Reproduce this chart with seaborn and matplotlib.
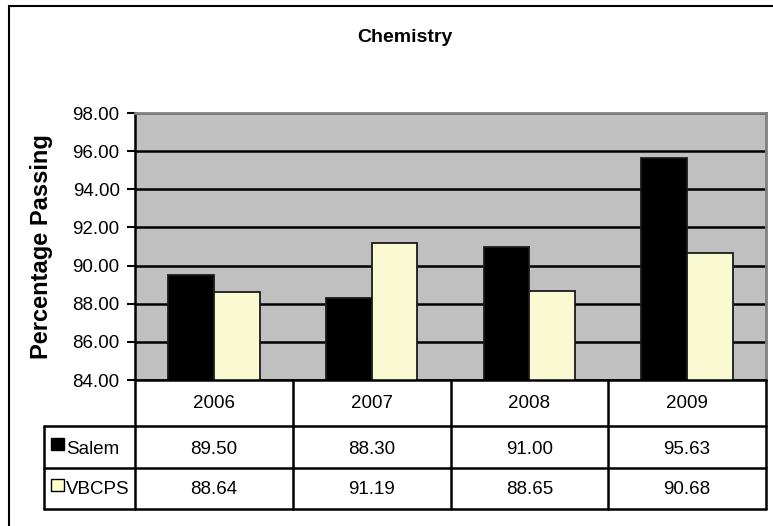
import matplotlib
matplotlib.use("Agg")
import matplotlib.pyplot as plt
import seaborn as sns
import pandas as pd
from matplotlib import font_manager
from matplotlib.lines import Line2D
from matplotlib.patches import Rectangle
from matplotlib.transforms import blended_transform_factory

# ---- data ----
years = ["2006", "2007", "2008", "2009"]
series = ["Salem", "VBCPS"]
salem = [89.50, 88.30, 91.00, 95.63]
vbcps = [88.64, 91.19, 88.65, 90.68]
yticks = [84, 86, 88, 90, 92, 94, 96, 98]
title = "Chemistry"
ylabel = "Percentage Passing"
colors = ["#000000", "#FFFFCC"]

df = pd.DataFrame({
    "Year": years * 2,
    "Series": [series[0]] * len(years) + [series[1]] * len(years),
    "Value": salem + vbcps,
})

sns.set_theme(style="white")
installed = {f.name for f in font_manager.fontManager.ttflist}
if "Liberation Sans Narrow" in installed:
    fam = ["Liberation Sans Narrow", "DejaVu Sans"]
    fs = 16
else:
    fam = ["Liberation Sans", "DejaVu Sans"]
    fs = 13.5
plt.rcParams["font.family"] = fam
plt.rcParams["text.color"] = "black"
plt.rcParams["axes.labelcolor"] = "black"
plt.rcParams["ytick.color"] = "black"
plt.rcParams["xtick.color"] = "black"

W, H = 773, 526
fig = plt.figure(figsize=(W / 100, H / 100), dpi=100, facecolor="white")

def fx(px):
    return px / W

def fy(py):
    return 1 - py / H

L, R, T, B = 135, 766, 113, 380
ax = fig.add_axes([fx(L), fy(B), fx(R) - fx(L), fy(T) - fy(B)])
ax.set_facecolor("#C0C0C0")

sns.barplot(data=df, x="Year", y="Value", hue="Series", order=years,
            hue_order=series, palette=colors, width=0.58, edgecolor="#1a1a1a",
            linewidth=1.3, legend=False, ax=ax, zorder=3)

ax.set_ylim(84, 98)
ax.set_xlim(-0.5, len(years) - 0.5)
ax.set_yticks(yticks)
ax.set_yticklabels([f"{v:.2f}" for v in yticks], fontsize=fs, color="black")
ax.set_xticks([])
ax.set_xlabel("")
ax.set_ylabel("")
ax.yaxis.grid(True, color="black", linewidth=1.8, zorder=1)
ax.set_axisbelow(True)
ax.tick_params(axis="y", direction="out", length=6, width=1.5, pad=5,
               colors="black", left=True)
for s in ["top", "right"]:
    ax.spines[s].set_color("#808080")
    ax.spines[s].set_linewidth(2)
ax.spines["left"].set_color("black")
ax.spines["left"].set_linewidth(1.8)
ax.spines["bottom"].set_visible(False)

# title and y label
fig.text(fx(405), fy(38), title, ha="center", va="center", fontsize=14,
         fontweight="bold", family=fam, color="black")
fig.text(fx(42), fy(247), ylabel, ha="center", va="center", rotation=90,
         fontsize=17, fontweight="bold", family=["Liberation Sans", "DejaVu Sans"],
         color="black")

# ---- data table ----
bt = blended_transform_factory(ax.transData, fig.transFigure)
ft = fig.transFigure
lw = 1.8
rows_y = [B, 426, 468, 509]
fig.add_artist(Line2D([-0.5, len(years) - 0.5], [fy(B), fy(B)], transform=bt,
                      color="black", lw=lw))
for yy in rows_y[1:]:
    fig.add_artist(Line2D([fx(44), fx(R)], [fy(yy), fy(yy)], transform=ft,
                          color="black", lw=lw))
for i in range(len(years) + 1):
    fig.add_artist(Line2D([i - 0.5, i - 0.5], [fy(B), fy(509)], transform=bt,
                          color="black", lw=lw))
fig.add_artist(Line2D([fx(44), fx(44)], [fy(426), fy(509)], transform=ft,
                      color="black", lw=lw))

centers = [(B + 426) / 2 + 1, (426 + 468) / 2 + 2, (468 + 509) / 2 + 1]
for i, yr in enumerate(years):
    fig.text(i, fy(centers[0]), yr, transform=bt, ha="center", va="center",
             fontsize=fs, color="black")
    fig.text(i, fy(centers[1]), f"{salem[i]:.2f}", transform=bt, ha="center",
             va="center", fontsize=fs, color="black")
    fig.text(i, fy(centers[2]), f"{vbcps[i]:.2f}", transform=bt, ha="center",
             va="center", fontsize=fs, color="black")

# legend keys in table
key_tops = [438, 479]
for k, (name, c) in enumerate(zip(series, colors)):
    fig.add_artist(Rectangle((fx(51), fy(key_tops[k] + 12)), 13 / W, 12 / H,
                             transform=ft, facecolor=c, edgecolor="black", lw=1))
    fig.text(fx(66), fy(centers[k + 1]), name, ha="left", va="center",
             fontsize=fs, color="black")

# outer frame (clipped on right/bottom)
fig.add_artist(Line2D([fx(9), fx(9)], [fy(6), fy(530)], transform=ft,
                      color="black", lw=1.5))
fig.add_artist(Line2D([fx(9), fx(780)], [fy(6), fy(6)], transform=ft,
                      color="black", lw=1.5))

fig.savefig("out.png", dpi=100, facecolor="white")
